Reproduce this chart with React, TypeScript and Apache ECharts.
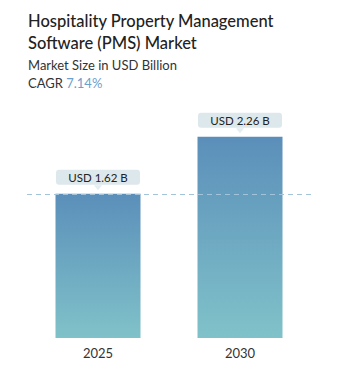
import React, { useEffect, useRef } from "react";
import * as echarts from "echarts";

const categories = ["2025", "2030"];
const values = [1.62, 2.26];
const valueLabels = ["USD 1.62 B", "USD 2.26 B"];
const titleLines = ["Hospitality Property Management", "Software (PMS) Market"];
const subtitle = "Market Size in USD Billion";
const cagrLabel = "CAGR";
const cagrValue = "7.14%";

const FONT = "Lato, 'Noto Sans', sans-serif";

export default function App() {
  const ref = useRef<HTMLDivElement>(null);
  useEffect(() => {
    const chart = echarts.init(ref.current!, null, { renderer: "svg" });
    chart.setOption({
      animation: false,
      backgroundColor: "#ffffff",
      grid: { left: 27, right: 30, top: 71, bottom: 34 },
      xAxis: {
        type: "category",
        data: categories,
        axisLine: { show: false },
        axisTick: { show: false },
        axisLabel: { color: "#333333", fontSize: 13, fontFamily: FONT, margin: 8 },
      },
      yAxis: { type: "value", min: 0, max: 3, show: false, splitLine: { show: false } },
      graphic: [
        { type: "text", left: 28, top: 12, style: { text: titleLines[0], fontSize: 16.5, fontWeight: 500, fontFamily: FONT, fill: "#222222" } },
        { type: "text", left: 28, top: 34, style: { text: titleLines[1], fontSize: 16.5, fontWeight: 500, fontFamily: FONT, fill: "#222222" } },
        { type: "text", left: 28, top: 58, style: { text: subtitle, fontSize: 13, fontFamily: FONT, fill: "#333333" } },
        {
          type: "text", left: 28, top: 76,
          style: {
            text: "{a|" + cagrLabel + "} {b|" + cagrValue + "}",
            rich: {
              a: { fontSize: 13, fontFamily: FONT, fill: "#333333" },
              b: { fontSize: 13, fontFamily: FONT, fill: "#6b9fcd" },
            },
          },
        },
      ],
      series: [
        {
          type: "bar",
          data: values,
          barWidth: 85,
          itemStyle: {
            color: new echarts.graphic.LinearGradient(0, 0, 0, 1, [
              { offset: 0, color: "#5b8fba" },
              { offset: 1, color: "#80c2c9" },
            ]),
          },
          label: {
            show: true,
            position: "top",
            distance: 9,
            formatter: (p: any) => valueLabels[p.dataIndex],
            backgroundColor: "#dde8ec",
            borderRadius: 3,
            width: 84,
            height: 13,
            lineHeight: 13,
            padding: [1, 0],
            align: "center",
            color: "#222222",
            fontSize: 11.5,
            fontFamily: FONT,
          },
          markLine: {
            silent: true,
            symbol: "none",
            label: { show: false },
            lineStyle: { color: "#a3c3da", type: [5, 4], width: 1 },
            data: [{ yAxis: values[0] }],
          },
          z: 2,
        },
        {
          type: "scatter",
          data: values,
          symbol: "triangle",
          symbolRotate: 180,
          symbolSize: [8, 5],
          symbolOffset: [0, -6],
          itemStyle: { color: "#dde8ec" },
          z: 3,
        },
      ],
    });
    return () => chart.dispose();
  }, []);
  return <div ref={ref} style={{ position: "fixed", left: 0, top: 0, width: 341, height: 372 }} />;
}
